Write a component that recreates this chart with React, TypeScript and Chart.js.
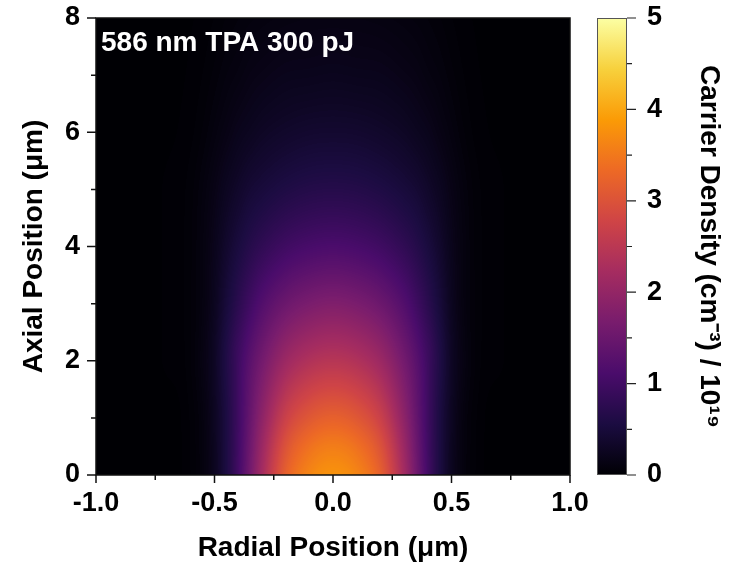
import React, { useEffect, useRef } from 'react';
import { Chart, registerables } from 'chart.js';

Chart.register(...registerables);

// ---- data ----
// radial distance |r| in µm at which each density row is sampled
const RADIAL_POSITIONS = [0, 0.1, 0.2, 0.3, 0.35, 0.4, 0.45, 0.5, 0.55, 0.6, 0.7, 1.0];
// axial positions (µm) of the rows below
const AXIAL_POSITIONS = [0, 0.5, 1, 2, 3, 4, 5, 6, 7, 8];
// carrier density / 1e19 cm^-3 at each radial position, one row per axial position
const DENSITY_Z0 = [3.8, 3.65, 3.2, 2.2, 1.6, 1.02, 0.57, 0.25, 0.09, 0.03, 0, 0];
const DENSITY_Z0_5 = [3.55, 3.41, 2.99, 2.08, 1.53, 0.99, 0.57, 0.26, 0.095, 0.032, 0, 0];
const DENSITY_Z1 = [3.2, 3.07, 2.7, 1.92, 1.45, 0.97, 0.57, 0.27, 0.1, 0.034, 0, 0];
const DENSITY_Z2 = [2.45, 2.36, 2.1, 1.6, 1.3, 0.95, 0.61, 0.3, 0.13, 0.048, 0.012, 0];
const DENSITY_Z3 = [1.75, 1.68, 1.51, 1.2, 0.98, 0.74, 0.49, 0.25, 0.11, 0.047, 0.012, 0];
const DENSITY_Z4 = [1.12, 1.08, 0.98, 0.8, 0.68, 0.53, 0.37, 0.21, 0.105, 0.046, 0.012, 0];
const DENSITY_Z5 = [0.68, 0.66, 0.6, 0.5, 0.44, 0.35, 0.26, 0.16, 0.088, 0.041, 0.012, 0];
const DENSITY_Z6 = [0.4, 0.39, 0.355, 0.3, 0.255, 0.21, 0.15, 0.097, 0.052, 0.024, 0.006, 0];
const DENSITY_Z7 = [0.23, 0.22, 0.21, 0.173, 0.15, 0.115, 0.088, 0.056, 0.03, 0.014, 0.003, 0];
const DENSITY_Z8 = [0.13, 0.127, 0.115, 0.095, 0.082, 0.067, 0.05, 0.03, 0.016, 0.008, 0, 0];
const DENSITY_ROWS = [
  DENSITY_Z0, DENSITY_Z0_5, DENSITY_Z1, DENSITY_Z2, DENSITY_Z3,
  DENSITY_Z4, DENSITY_Z5, DENSITY_Z6, DENSITY_Z7, DENSITY_Z8,
];

const X_MAJOR_TICKS = [-1, -0.5, 0, 0.5, 1];
const X_MINOR_TICKS = [-0.75, -0.25, 0.25, 0.75];
const Y_MAJOR_TICKS = [0, 2, 4, 6, 8];
const Y_MINOR_TICKS = [1, 3, 5, 7];
const CBAR_MAJOR_TICKS = [0, 1, 2, 3, 4, 5];
const CBAR_MINOR_TICKS = [0.5, 1.5, 2.5, 3.5, 4.5];
const CBAR_MIN = 0;
const CBAR_MAX = 5;

const ANNOTATION = '586 nm TPA 300 pJ';
const X_TITLE = 'Radial Position (μm)';
const Y_TITLE = 'Axial Position (μm)';
const CBAR_TITLE = 'Carrier Density (cm⁻³) / 10¹⁹';

const INFERNO = ['#000004', '#1b0c41', '#4a0c6b', '#781c6d', '#a52c60', '#cf4446', '#ed6925', '#fb9b06', '#f7d13d', '#fcffa4'];

const FONT_FAMILY = '"Liberation Sans", Arial, Helvetica, sans-serif';

// ---- helpers ----
function hexToRgb(h: string) {
  return [parseInt(h.slice(1, 3), 16), parseInt(h.slice(3, 5), 16), parseInt(h.slice(5, 7), 16)];
}
const LUT: number[][] = (() => {
  const stops = INFERNO.map(hexToRgb);
  const out: number[][] = [];
  for (let i = 0; i < 256; i++) {
    const t = (i / 255) * (stops.length - 1);
    const k = Math.min(stops.length - 2, Math.floor(t));
    const f = t - k;
    out.push([0, 1, 2].map((c) => Math.round(stops[k][c] + (stops[k + 1][c] - stops[k][c]) * f)));
  }
  return out;
})();

function monotone(xs: number[], ys: number[], flatStart: boolean) {
  const n = xs.length;
  const d: number[] = [];
  for (let i = 0; i < n - 1; i++) d.push((ys[i + 1] - ys[i]) / (xs[i + 1] - xs[i]));
  const m: number[] = new Array(n);
  m[0] = flatStart ? 0 : d[0];
  m[n - 1] = d[n - 2];
  for (let i = 1; i < n - 1; i++) m[i] = d[i - 1] * d[i] <= 0 ? 0 : (d[i - 1] + d[i]) / 2;
  for (let i = 0; i < n - 1; i++) {
    if (d[i] === 0) { m[i] = 0; m[i + 1] = 0; continue; }
    const a = m[i] / d[i], b = m[i + 1] / d[i];
    const s = a * a + b * b;
    if (s > 9) { const t = 3 / Math.sqrt(s); m[i] = t * a * d[i]; m[i + 1] = t * b * d[i]; }
  }
  return (x: number) => {
    if (x <= xs[0]) return ys[0];
    if (x >= xs[n - 1]) return ys[n - 1];
    let i = 0;
    while (i < n - 2 && x > xs[i + 1]) i++;
    const h = xs[i + 1] - xs[i];
    const t = (x - xs[i]) / h;
    const t2 = t * t, t3 = t2 * t;
    return (2 * t3 - 3 * t2 + 1) * ys[i] + (t3 - 2 * t2 + t) * h * m[i] +
      (-2 * t3 + 3 * t2) * ys[i + 1] + (t3 - t2) * h * m[i + 1];
  };
}

const heatmapPlugin = {
  id: 'heatmap',
  beforeDatasetsDraw(chart: any) {
    const { ctx, chartArea: a, scales } = chart;
    const xs = scales.x, ys = scales.y;
    const w = Math.round(a.right - a.left), h = Math.round(a.bottom - a.top);
    const off = document.createElement('canvas');
    off.width = w; off.height = h;
    const octx = off.getContext('2d')!;
    const img = octx.createImageData(w, h);
    const radialFns = DENSITY_ROWS.map((row) => monotone(RADIAL_POSITIONS, row, true));
    const zVals: number[] = [];
    for (let j = 0; j < h; j++) zVals.push(ys.getValueForPixel(a.top + j + 0.5));
    for (let i = 0; i < w; i++) {
      const r = Math.abs(xs.getValueForPixel(a.left + i + 0.5));
      const col = radialFns.map((f) => Math.max(0, f(r)));
      const zf = monotone(AXIAL_POSITIONS, col, false);
      for (let j = 0; j < h; j++) {
        const v = Math.max(0, zf(zVals[j]));
        const t = Math.min(1, Math.max(0, (v - CBAR_MIN) / (CBAR_MAX - CBAR_MIN)));
        const c = LUT[Math.round(t * 255)];
        const p = (j * w + i) * 4;
        img.data[p] = c[0]; img.data[p + 1] = c[1]; img.data[p + 2] = c[2]; img.data[p + 3] = 255;
      }
    }
    octx.putImageData(img, 0, 0);
    ctx.save();
    ctx.drawImage(off, a.left, a.top, a.right - a.left, a.bottom - a.top);
    ctx.restore();
  },
  afterDatasetsDraw(chart: any) {
    const { ctx, chartArea: a } = chart;
    ctx.save();
    ctx.fillStyle = '#ffffff';
    ctx.font = `bold 28px ${FONT_FAMILY}`;
    ctx.textBaseline = 'alphabetic';
    ctx.textAlign = 'left';
    ctx.fillText(ANNOTATION, a.left + 5, a.top + 33);
    ctx.restore();
  },
  afterDraw(chart: any) {
    const { ctx, chartArea: a, scales } = chart;
    ctx.save();
    ctx.strokeStyle = '#111';
    ctx.lineWidth = 1.5;
    ctx.strokeRect(a.left, a.top, a.right - a.left, a.bottom - a.top);
    ctx.beginPath();
    X_MAJOR_TICKS.forEach((v) => { const px = scales.x.getPixelForValue(v); ctx.moveTo(px, a.bottom); ctx.lineTo(px, a.bottom + 8); });
    X_MINOR_TICKS.forEach((v) => { const px = scales.x.getPixelForValue(v); ctx.moveTo(px, a.bottom); ctx.lineTo(px, a.bottom + 5); });
    Y_MAJOR_TICKS.forEach((v) => { const py = scales.y.getPixelForValue(v); ctx.moveTo(a.left, py); ctx.lineTo(a.left - 9, py); });
    Y_MINOR_TICKS.forEach((v) => { const py = scales.y.getPixelForValue(v); ctx.moveTo(a.left, py); ctx.lineTo(a.left - 5, py); });
    ctx.stroke();
    ctx.restore();
  },
};

const colorbarPlugin = {
  id: 'colorbar',
  beforeDatasetsDraw(chart: any) {
    const { ctx, chartArea: a, scales } = chart;
    const y0 = scales.y.getPixelForValue(CBAR_MIN), y1 = scales.y.getPixelForValue(CBAR_MAX);
    const g = ctx.createLinearGradient(0, y0, 0, y1);
    INFERNO.forEach((c, i) => g.addColorStop(i / (INFERNO.length - 1), c));
    ctx.save();
    ctx.fillStyle = g;
    ctx.fillRect(a.left, a.top, a.right - a.left, a.bottom - a.top);
    ctx.strokeStyle = '#555';
    ctx.lineWidth = 1;
    ctx.strokeRect(a.left + 0.5, a.top + 0.5, a.right - a.left - 1, a.bottom - a.top - 1);
    ctx.strokeStyle = '#222';
    ctx.lineWidth = 1.2;
    ctx.beginPath();
    CBAR_MAJOR_TICKS.forEach((v) => { const py = scales.y.getPixelForValue(v); ctx.moveTo(a.right, py); ctx.lineTo(a.right + 9, py); });
    CBAR_MINOR_TICKS.forEach((v) => { const py = scales.y.getPixelForValue(v); ctx.moveTo(a.right, py); ctx.lineTo(a.right + 5, py); });
    ctx.stroke();
    ctx.restore();
  },
};

const tickFont = { family: FONT_FAMILY, size: 27, weight: 'bold' as const };
const titleFont = { family: FONT_FAMILY, size: 28, weight: 'bold' as const };

const clearPadding = (s: any) => {
  s.paddingTop = 0; s.paddingBottom = 0; s.paddingLeft = 0; s.paddingRight = 0;
};

export default function App() {
  const mainRef = useRef<HTMLCanvasElement>(null);
  const barRef = useRef<HTMLCanvasElement>(null);

  useEffect(() => {
    const main = new Chart(mainRef.current!, {
      type: 'scatter',
      data: { datasets: [{ data: [] }] },
      plugins: [heatmapPlugin],
      options: {
        responsive: false,
        animation: false,
        layout: { padding: { left: 0, top: 18, right: 173, bottom: 0 } },
        plugins: { legend: { display: false }, tooltip: { enabled: false } },
        scales: {
          x: {
            type: 'linear', min: -1, max: 1,
            grid: { display: false, drawTicks: false },
            border: { display: false },
            ticks: { stepSize: 0.5, padding: 12, color: '#000', font: tickFont, maxRotation: 0,
              callback: (v: any) => Number(v).toFixed(1) },
            title: { display: true, text: X_TITLE, color: '#000', font: titleFont, padding: { top: 0, bottom: 8 } },
            afterFit: (s: any) => { s.height = 98; clearPadding(s); },
          },
          y: {
            type: 'linear', min: 0, max: 8,
            grid: { display: false, drawTicks: false },
            border: { display: false },
            ticks: { stepSize: 2, padding: 16, color: '#000', font: tickFont,
              callback: (v: any) => String(v) },
            title: { display: true, text: Y_TITLE, color: '#000', font: titleFont, padding: { top: 17, bottom: 0 } },
            afterFit: (s: any) => { s.width = 96; clearPadding(s); },
          },
        },
      } as any,
    });

    const bar = new Chart(barRef.current!, {
      type: 'scatter',
      data: { datasets: [{ data: [] }] },
      plugins: [colorbarPlugin],
      options: {
        responsive: false,
        animation: false,
        layout: { padding: { left: 7, top: 18, right: 0, bottom: 98 } },
        plugins: { legend: { display: false }, tooltip: { enabled: false } },
        scales: {
          x: { type: 'linear', display: false, min: 0, max: 1 },
          y: {
            type: 'linear', position: 'right', min: CBAR_MIN, max: CBAR_MAX,
            grid: { display: false, drawTicks: false },
            border: { display: false },
            ticks: { stepSize: 1, padding: 20, color: '#000', font: tickFont,
              callback: (v: any) => String(v) },
            title: { display: true, text: CBAR_TITLE, color: '#000', font: titleFont, padding: { top: 17, bottom: 0 } },
            afterFit: (s: any) => { s.width = 116; clearPadding(s); },
          },
        },
      } as any,
    });

    return () => { main.destroy(); bar.destroy(); };
  }, []);

  return (
    <div style={{ position: 'fixed', left: 0, top: 0, width: 743, height: 573, background: '#fff' }}>
      <canvas ref={mainRef} width={743} height={573} style={{ position: 'absolute', left: 0, top: 0 }} />
      <canvas ref={barRef} width={153} height={573} style={{ position: 'absolute', left: 590, top: 0 }} />
    </div>
  );
}
